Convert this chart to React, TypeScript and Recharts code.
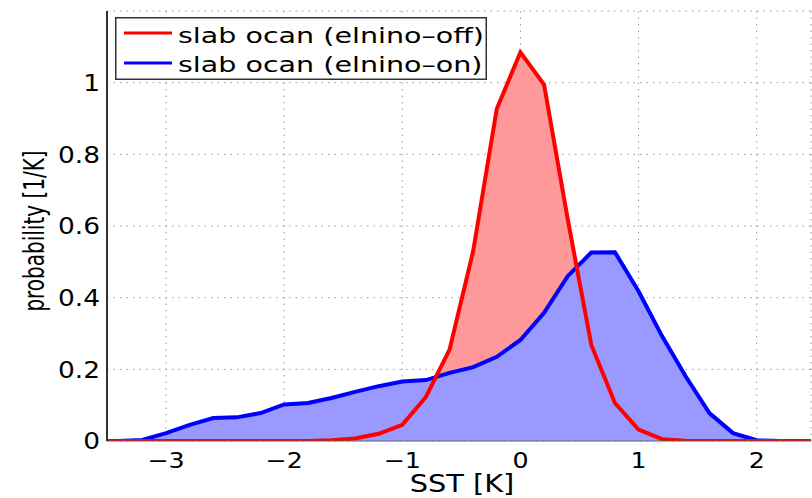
import {
  ComposedChart,
  Area,
  Line,
  XAxis,
  YAxis,
  CartesianGrid,
  Legend,
} from "recharts";

// SST bins [K], 0.2 K apart
const sst = [
  -3.6, -3.4, -3.2, -3.0, -2.8, -2.6, -2.4, -2.2, -2.0, -1.8, -1.6, -1.4, -1.2, -1.0, -0.8, -0.6,
  -0.4, -0.2, 0.0, 0.2, 0.4, 0.6, 0.8, 1.0, 1.2, 1.4, 1.6, 1.8, 2.0, 2.2, 2.4, 2.6,
];

// probability [1/K], slab ocean without el nino
const elninoOff = [
  0, 0, 0, 0, 0, 0, 0, 0, 0, 0, 0.002, 0.007, 0.02, 0.045, 0.123, 0.255,
  0.53, 0.927, 1.085, 0.995, 0.62, 0.268, 0.106, 0.032, 0.005, 0.001, 0, 0, 0, 0, 0, 0,
];

// probability [1/K], slab ocean with el nino
const elninoOn = [
  0, 0, 0.003, 0.022, 0.045, 0.064, 0.066, 0.078, 0.102, 0.106, 0.12, 0.137, 0.153, 0.166, 0.17, 0.19,
  0.206, 0.235, 0.282, 0.358, 0.46, 0.526, 0.527, 0.418, 0.292, 0.18, 0.078, 0.022, 0.002, 0, 0, 0,
];

const xTicks = [-3, -2, -1, 0, 1, 2];
const yTicks = [0, 0.2, 0.4, 0.6, 0.8, 1];
const seriesNames = ["slab ocan (elnino\u2013off)", "slab ocan (elnino\u2013on)"];
const seriesColors = ["#ff0000", "#0000ff"];

const data = sst.map((x, i) => ({ sst: x, off: elninoOff[i], on: elninoOn[i] }));

const FONT = "DejaVu Sans";

const fmtY = (v: number) => `${+v.toFixed(1)}`;
const fmtX = (v: number) => (v < 0 ? `\u2212${-v}` : `${v}`);

const YTick = ({ x, y, payload }: any) => (
  <text
    transform={`translate(${x},${y}) scale(1.15,1)`}
    textAnchor="end"
    dy="0.36em"
    fontSize={23}
    fontFamily={FONT}
    fill="#000"
  >
    {fmtY(payload.value)}
  </text>
);

const XTick = ({ x, y, payload }: any) => (
  <text
    transform={`translate(${x},${y}) scale(1.15,1)`}
    textAnchor="middle"
    dy={15}
    fontSize={22}
    fontFamily={FONT}
    fill="#000"
  >
    {fmtX(payload.value)}
  </text>
);

const LegendBox = () => (
  <svg width={372} height={63} style={{ display: "block" }}>
    <rect x={0.75} y={0.75} width={370.5} height={61.5} fill="#fff" stroke="#333" strokeWidth={1.5} />
    {seriesNames.map((name, i) => (
      <g key={name}>
        <line x1={9} x2={57} y1={16 + i * 30} y2={16 + i * 30} stroke={seriesColors[i]} strokeWidth={3} />
        <text
          transform={`translate(63,${26 + i * 29}) scale(1.36,1)`}
          fontSize={21}
          fontFamily={FONT}
          fill="#000"
        >
          {name}
        </text>
      </g>
    ))}
  </svg>
);

export default function App() {
  return (
    <div style={{ position: "absolute", left: 0, top: 0, background: "#fff" }}>
      <ComposedChart
        width={812}
        height={498}
        data={data}
        margin={{ top: 11, right: 1, bottom: 0, left: 0 }}
      >
        <CartesianGrid stroke="#999" strokeDasharray="1.5 5" />

        <XAxis
          dataKey="sst"
          type="number"
          domain={[-3.5, 2.46]}
          allowDataOverflow
          ticks={xTicks}
          tick={<XTick />}
          tickLine={false}
          tickSize={0}
          tickMargin={12}
          height={57}
          axisLine={{ stroke: "#666", strokeWidth: 1 }}
          label={{
            content: () => (
              <text
                transform="translate(462,492) scale(1.2,1)"
                textAnchor="middle"
                fontSize={24}
                fontFamily={FONT}
                fill="#000"
              >
                SST [K]
              </text>
            ),
          }}
        />
        <XAxis
          xAxisId="top"
          orientation="top"
          type="number"
          domain={[-3.5, 2.46]}
          allowDataOverflow
          height={0}
          tick={false}
          tickLine={false}
          axisLine={{ stroke: "#444", strokeWidth: 2 }}
        />

        <YAxis
          type="number"
          domain={[0, 1.2]}
          allowDataOverflow
          ticks={yTicks}
          tick={<YTick />}
          tickLine={false}
          tickSize={0}
          tickMargin={7}
          width={107}
          axisLine={{ stroke: "#333", strokeWidth: 2 }}
          label={{
            content: () => (
              <text
                transform="translate(44,231) scale(1.4,1) rotate(-90)"
                textAnchor="middle"
                fontSize={20}
                fontFamily={FONT}
                fill="#000"
              >
                probability [1/K]
              </text>
            ),
          }}
        />

        <Legend
          layout="horizontal"
          verticalAlign="middle"
          align="center"
          content={() => <LegendBox />}
          wrapperStyle={{ left: 115, top: 17, width: 372, height: 63 }}
        />

        <Area
          dataKey="off"
          type="linear"
          fill="#ff9999"
          fillOpacity={1}
          stroke="none"
          isAnimationActive={false}
          legendType="none"
        />
        <Area
          dataKey="on"
          type="linear"
          fill="#9999ff"
          fillOpacity={1}
          stroke="none"
          isAnimationActive={false}
          legendType="none"
        />
        <Line
          dataKey="on"
          type="linear"
          stroke="#0000ff"
          strokeWidth={4}
          dot={false}
          isAnimationActive={false}
        />
        <Line
          dataKey="off"
          type="linear"
          stroke="#ff0000"
          strokeWidth={4}
          dot={false}
          isAnimationActive={false}
        />
      </ComposedChart>
    </div>
  );
}
